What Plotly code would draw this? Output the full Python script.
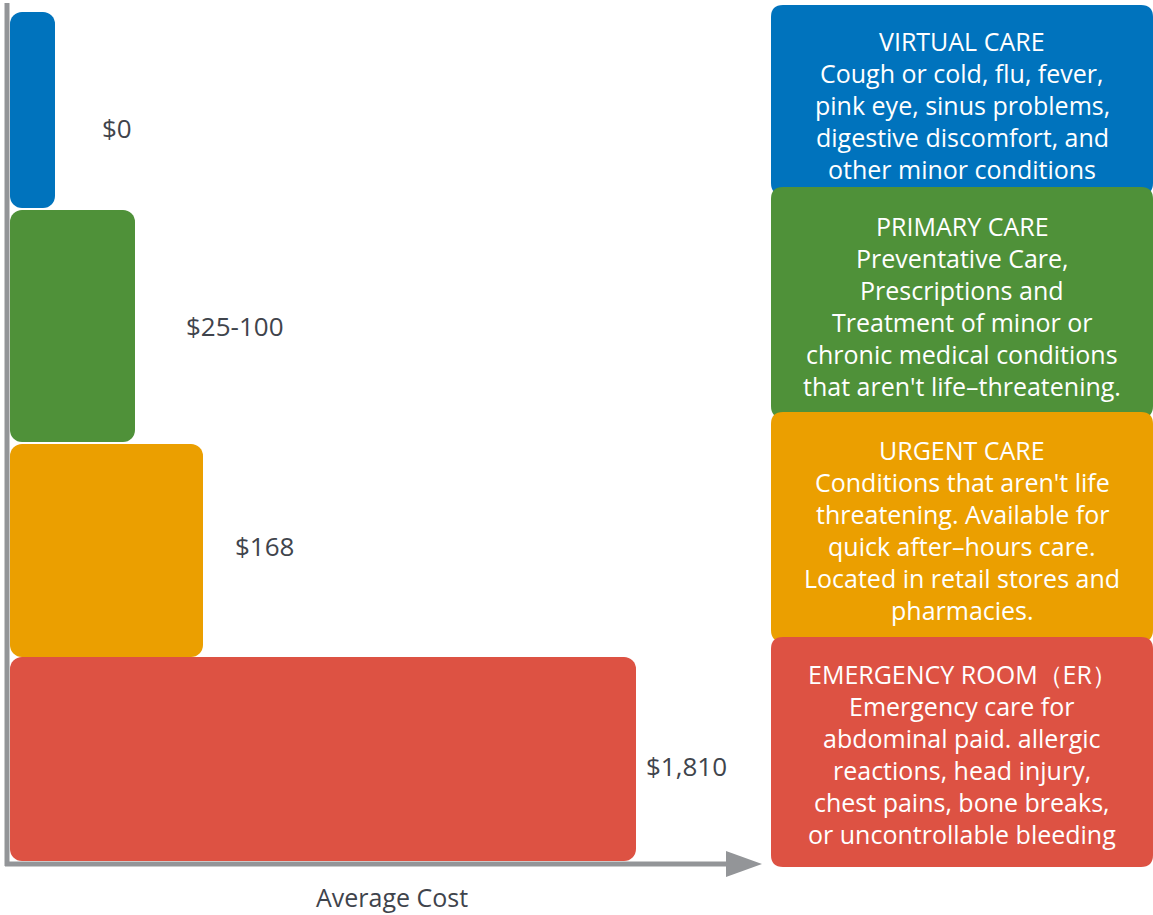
import plotly.graph_objects as go

# ---- data ----
categories = ["Virtual Care", "Primary Care", "Urgent Care", "Emergency Room"]
cost_labels = ["$0", "$25-100", "$168", "$1,810"]
bar_lengths = [45, 125, 193, 626]          # visual bar lengths
axis_title = "Average Cost"

box_lines = [
    ["VIRTUAL CARE", "Cough or cold, flu, fever,", "pink eye, sinus problems,",
     "digestive discomfort, and", "other minor conditions"],
    ["PRIMARY CARE", "Preventative Care,", "Prescriptions and",
     "Treatment of minor or", "chronic medical conditions",
     "that aren't life–threatening."],
    ["URGENT CARE", "Conditions that aren't life", "threatening. Available for",
     "quick after–hours care.", "Located in retail stores and", "pharmacies."],
    ["EMERGENCY ROOM（ER）", "Emergency care for", "abdominal paid. allergic",
     "reactions, head injury,", "chest pains, bone breaks,",
     "or uncontrollable bleeding"],
]

# ---- layout / style ----
colors = ["#0073BD", "#4F9139", "#EB9F00", "#DD5243"]
bar_top = [12, 210, 444, 657]
bar_bottom = [208, 442, 657, 861]
label_left = [100, 184, 233, 644]
label_y = [128, 326, 546, 766]
box_top = [5, 187, 412, 637]
box_bottom = [195, 418, 642, 867]
box_first_line = [41, 226, 450, 674]
line_step = 32
BASE = 10
axis_gray = "#939598"
text_gray = "#3F444C"

fig = go.Figure()

centers = [(t + b) / 2 for t, b in zip(bar_top, bar_bottom)]
thick = [b - t for t, b in zip(bar_top, bar_bottom)]

fig.add_trace(go.Bar(
    orientation="h", y=centers, x=bar_lengths, base=BASE, width=thick,
    marker=dict(color=colors, line=dict(width=0)),
    hovertext=categories, hoverinfo="text+x", showlegend=False,
))

shapes = []
def rrect(x0, y0, x1, y1, r):
    return (f"M {x0+r},{y0} L {x1-r},{y0} Q {x1},{y0} {x1},{y0+r} "
            f"L {x1},{y1-r} Q {x1},{y1} {x1-r},{y1} L {x0+r},{y1} "
            f"Q {x0},{y1} {x0},{y1-r} L {x0},{y0+r} Q {x0},{y0} {x0+r},{y0} Z")

for c, t, b in zip(colors, box_top, box_bottom):
    shapes.append(dict(type="path", xref="x", yref="y",
                       path=rrect(771, t, 1153, b, 12),
                       fillcolor=c, line=dict(width=0), layer="above"))

shapes.append(dict(type="line", xref="x", yref="y", x0=7, x1=7, y0=3, y1=866,
                   line=dict(color=axis_gray, width=5), layer="above"))
shapes.append(dict(type="line", xref="x", yref="y", x0=5, x1=735, y0=864, y1=864,
                   line=dict(color=axis_gray, width=5), layer="above"))
shapes.append(dict(type="path", xref="x", yref="y",
                   path="M 726,851 L 762,864 L 726,877 Z",
                   fillcolor=axis_gray, line=dict(width=0), layer="above"))

annotations = []
for lab, lx, ly in zip(cost_labels, label_left, label_y):
    annotations.append(dict(x=lx, y=ly, xref="x", yref="y", text=lab,
                            showarrow=False, xanchor="left", yanchor="middle",
                            font=dict(family="Open Sans", size=26, color=text_gray)))

for lines, y0 in zip(box_lines, box_first_line):
    for i, ln in enumerate(lines):
        annotations.append(dict(x=962, y=y0 + i * line_step, xref="x", yref="y",
                                text=ln, showarrow=False, xanchor="center",
                                yanchor="middle",
                                font=dict(family="Open Sans", size=25, color="white")))

annotations.append(dict(x=392, y=897, xref="x", yref="y", text=axis_title,
                        showarrow=False, xanchor="center", yanchor="middle",
                        borderpad=0,
                        font=dict(family="Open Sans", size=25, color=text_gray)))

fig.update_layout(
    width=1153, height=915,
    margin=dict(l=0, r=0, t=0, b=0),
    paper_bgcolor="white", plot_bgcolor="white",
    barcornerradius=12,
    xaxis=dict(range=[0, 1153], visible=False, fixedrange=True),
    yaxis=dict(range=[915, 0], visible=False, fixedrange=True),
    shapes=shapes, annotations=annotations,
)

fig.write_html("out.html", config={"displayModeBar": False},
               post_script="document.body.style.margin='0';document.body.style.overflow='hidden';")
